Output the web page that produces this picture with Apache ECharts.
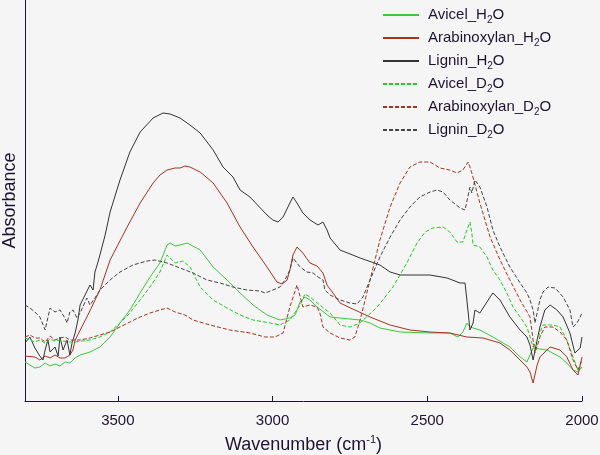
<!DOCTYPE html>
<html>
<head>
<meta charset="utf-8">
<script src="https://cdn.jsdelivr.net/npm/echarts@6/dist/echarts.min.js"></script>
<style>
html,body{margin:0;padding:0;background:#f5f5f5;}
#c{width:600px;height:455px;}
</style>
</head>
<body>
<div id="c"></div>
<script>
// Tick labels of the (reversed) wavenumber axis
const xTicks = [3500, 3000, 2500, 2000];

// Series names
const names = ['Avicel_H2O','Arabinoxylan_H2O','Lignin_H2O','Avicel_D2O','Arabinoxylan_D2O','Lignin_D2O'];

// [wavenumber (cm-1), absorbance (arbitrary units)]
const avicelH2O = [[3800,39],[3784,36],[3768,33],[3752,34],[3735,38],[3719,35],[3703,37],[3687,35],[3671,39],[3655,38],[3638,43],[3622,46],[3590,49],[3558,54],[3525,64],[3493,78],[3461,91],[3428,108],[3396,124],[3364,138],[3341,156],[3331,158],[3315,155],[3299,156],[3276,158],[3234,151],[3192,134],[3147,121],[3105,108],[3063,96],[3018,86],[2976,81],[2944,83],[2927,86],[2911,99],[2895,104],[2879,101],[2856,94],[2814,84],[2782,83],[2717,81],[2685,78],[2653,73],[2588,69],[2491,68],[2427,68],[2401,64],[2385,69],[2372,78],[2362,74],[2330,71],[2288,64],[2233,54],[2200,44],[2178,39],[2168,46],[2158,53],[2113,51],[2071,44],[2049,38],[2029,31],[2013,29],[2000,34]];

const arabinoxylanH2O = [[3800,45],[3768,44],[3752,41],[3735,45],[3719,43],[3703,46],[3687,43],[3671,43],[3655,46],[3645,51],[3638,61],[3600,84],[3558,111],[3525,141],[3470,174],[3428,198],[3386,218],[3364,226],[3341,231],[3315,233],[3299,233],[3283,235],[3267,234],[3234,229],[3192,218],[3147,198],[3105,174],[3063,154],[3018,134],[2986,119],[2969,117],[2953,121],[2944,131],[2934,146],[2921,154],[2902,148],[2879,138],[2856,135],[2853,137],[2837,128],[2824,116],[2805,108],[2782,98],[2734,91],[2685,84],[2620,76],[2556,71],[2491,69],[2427,68],[2372,64],[2320,63],[2265,58],[2233,51],[2210,44],[2178,34],[2168,29],[2158,18],[2145,36],[2136,44],[2103,54],[2071,51],[2049,44],[2029,31],[2013,26],[2000,44]];

const ligninH2O = [[3800,58],[3784,64],[3768,53],[3752,45],[3742,41],[3735,51],[3726,61],[3719,49],[3703,54],[3693,45],[3687,64],[3677,51],[3664,61],[3655,46],[3648,58],[3638,68],[3629,81],[3622,96],[3606,106],[3590,116],[3580,111],[3574,129],[3564,139],[3558,146],[3541,166],[3525,189],[3493,221],[3461,249],[3428,269],[3386,283],[3354,288],[3331,287],[3299,283],[3267,276],[3234,268],[3192,251],[3160,234],[3128,224],[3105,211],[3073,204],[3018,186],[2999,181],[2982,179],[2966,184],[2944,198],[2934,204],[2921,198],[2902,188],[2879,181],[2853,176],[2837,179],[2824,171],[2814,163],[2782,151],[2717,143],[2653,136],[2620,129],[2588,126],[2491,126],[2436,123],[2394,118],[2378,118],[2372,101],[2362,71],[2352,78],[2346,91],[2330,88],[2297,104],[2288,108],[2265,101],[2233,84],[2200,71],[2178,64],[2168,56],[2158,41],[2145,61],[2136,74],[2120,91],[2103,96],[2081,91],[2061,84],[2039,68],[2023,48],[2006,53],[2000,64]];

const avicelD2O = [[3800,63],[3784,61],[3768,59],[3752,61],[3735,58],[3719,62],[3703,60],[3687,61],[3664,59],[3638,59],[3590,61],[3558,64],[3525,69],[3493,78],[3461,88],[3428,101],[3396,114],[3364,129],[3341,146],[3315,138],[3289,140],[3267,134],[3234,114],[3192,101],[3147,93],[3105,86],[3063,81],[3008,78],[2976,76],[2944,81],[2911,96],[2895,107],[2879,104],[2856,98],[2814,88],[2782,76],[2750,74],[2717,78],[2662,94],[2611,114],[2566,138],[2533,158],[2507,169],[2482,173],[2449,174],[2427,169],[2404,159],[2385,159],[2372,171],[2362,179],[2356,168],[2352,156],[2330,154],[2307,144],[2288,131],[2265,121],[2243,108],[2223,94],[2200,84],[2178,74],[2158,54],[2145,61],[2126,76],[2094,76],[2071,74],[2049,61],[2029,44],[2013,31],[2000,34]];

const arabinoxylanD2O = [[3800,64],[3784,66],[3768,63],[3752,63],[3735,59],[3719,65],[3703,61],[3687,63],[3671,64],[3655,61],[3638,61],[3622,61],[3590,63],[3558,66],[3525,69],[3493,74],[3461,79],[3428,84],[3396,88],[3364,91],[3341,93],[3315,89],[3283,86],[3257,81],[3202,76],[3138,71],[3073,68],[3024,64],[2992,64],[2966,68],[2944,94],[2921,116],[2902,94],[2879,96],[2856,94],[2847,88],[2837,74],[2814,68],[2782,63],[2750,61],[2734,64],[2717,81],[2685,121],[2653,161],[2620,194],[2588,218],[2556,234],[2524,239],[2491,239],[2459,233],[2427,231],[2404,228],[2385,231],[2368,239],[2356,228],[2330,198],[2297,164],[2265,141],[2233,121],[2200,101],[2168,84],[2158,61],[2152,48],[2136,64],[2120,74],[2094,74],[2071,69],[2049,61],[2029,41],[2013,31],[2000,41]];

const ligninD2O = [[3800,96],[3784,93],[3768,89],[3752,84],[3735,71],[3719,93],[3703,89],[3687,91],[3671,83],[3664,78],[3655,89],[3645,91],[3632,83],[3622,88],[3606,99],[3600,103],[3590,96],[3574,103],[3558,111],[3525,121],[3493,129],[3451,136],[3406,140],[3380,141],[3341,138],[3299,133],[3257,128],[3212,121],[3170,118],[3128,114],[3083,111],[3041,110],[3024,108],[2999,111],[2976,114],[2960,121],[2944,131],[2934,143],[2911,134],[2889,129],[2869,128],[2853,124],[2837,121],[2831,111],[2814,106],[2782,101],[2750,98],[2727,97],[2708,104],[2685,121],[2653,144],[2620,164],[2588,181],[2556,194],[2524,204],[2491,209],[2469,211],[2449,209],[2427,201],[2394,193],[2378,191],[2362,214],[2356,208],[2346,221],[2330,214],[2307,194],[2288,171],[2265,154],[2233,134],[2200,118],[2178,108],[2168,101],[2158,91],[2152,78],[2145,88],[2136,101],[2126,109],[2110,114],[2087,113],[2061,104],[2039,91],[2029,74],[2016,78],[2006,84],[2000,88]];

const seriesData = [avicelH2O, arabinoxylanH2O, ligninH2O, avicelD2O, arabinoxylanD2O, ligninD2O];
const colors = ['#3cc83c', '#a8321e', '#333333', '#22cc22', '#a8321e', '#444444'];
const dashed = [false, false, false, true, true, true];

const chart = echarts.init(document.getElementById('c'), null, {renderer: 'canvas'});
const textColor = '#1e1432';
const fontFamily = 'Liberation Sans, Arial, sans-serif';

chart.setOption({
  animation: false,
  backgroundColor: '#f5f5f5',
  grid: {left: 25, right: 18, top: 0, bottom: 54, containLabel: false, outerBoundsMode: 'none'},
  xAxis: {
    type: 'value',
    inverse: true,
    min: 2000,
    max: 3800,
    interval: 500,
    name: 'Wavenumber (cm{sup|-1})',
    nameLocation: 'middle',
    nameGap: 33,
    nameTextStyle: {
      color: textColor, fontSize: 18, fontFamily: fontFamily, lineHeight: 22,
      rich: {sup: {fontSize: 11, verticalAlign: 'top', lineHeight: 12, color: textColor, fontFamily: fontFamily}}
    },
    axisLine: {lineStyle: {color: textColor, width: 1}},
    axisTick: {inside: true, length: 5, lineStyle: {color: textColor}},
    axisLabel: {
      color: textColor, fontSize: 15, fontFamily: fontFamily, margin: 12,
      formatter: v => xTicks.includes(v) ? String(v) : ''
    },
    splitLine: {show: false}
  },
  yAxis: {
    type: 'value',
    min: 0,
    max: 401,
    name: 'Absorbance',
    nameLocation: 'middle',
    nameGap: 6,
    nameTextStyle: {color: textColor, fontSize: 18, fontFamily: fontFamily},
    axisLine: {show: true, lineStyle: {color: textColor, width: 1}},
    axisTick: {show: false},
    axisLabel: {show: false},
    splitLine: {show: false}
  },
  legend: {
    orient: 'vertical',
    left: 382,
    top: 5,
    padding: 0,
    itemWidth: 36,
    itemHeight: 14,
    itemGap: 3,
    data: names,
    itemStyle: {opacity: 0},
    formatter: n => n.replace('H2O', 'H{sub|2}O').replace('D2O', 'D{sub|2}O'),
    textStyle: {
      color: textColor, fontSize: 15, fontFamily: fontFamily, lineHeight: 20,
      padding: [0, 0, 0, 4],
      rich: {sub: {fontSize: 10, verticalAlign: 'bottom', lineHeight: 10, color: textColor, fontFamily: fontFamily}}
    }
  },
  series: names.map((n, i) => ({
    name: n,
    type: 'line',
    data: seriesData[i],
    symbol: 'none',
    smooth: false,
    lineStyle: {color: colors[i], width: 1, type: dashed[i] ? [4, 2] : 'solid'},
    itemStyle: {color: colors[i]},
    z: 2
  }))
});
</script>
</body>
</html>
